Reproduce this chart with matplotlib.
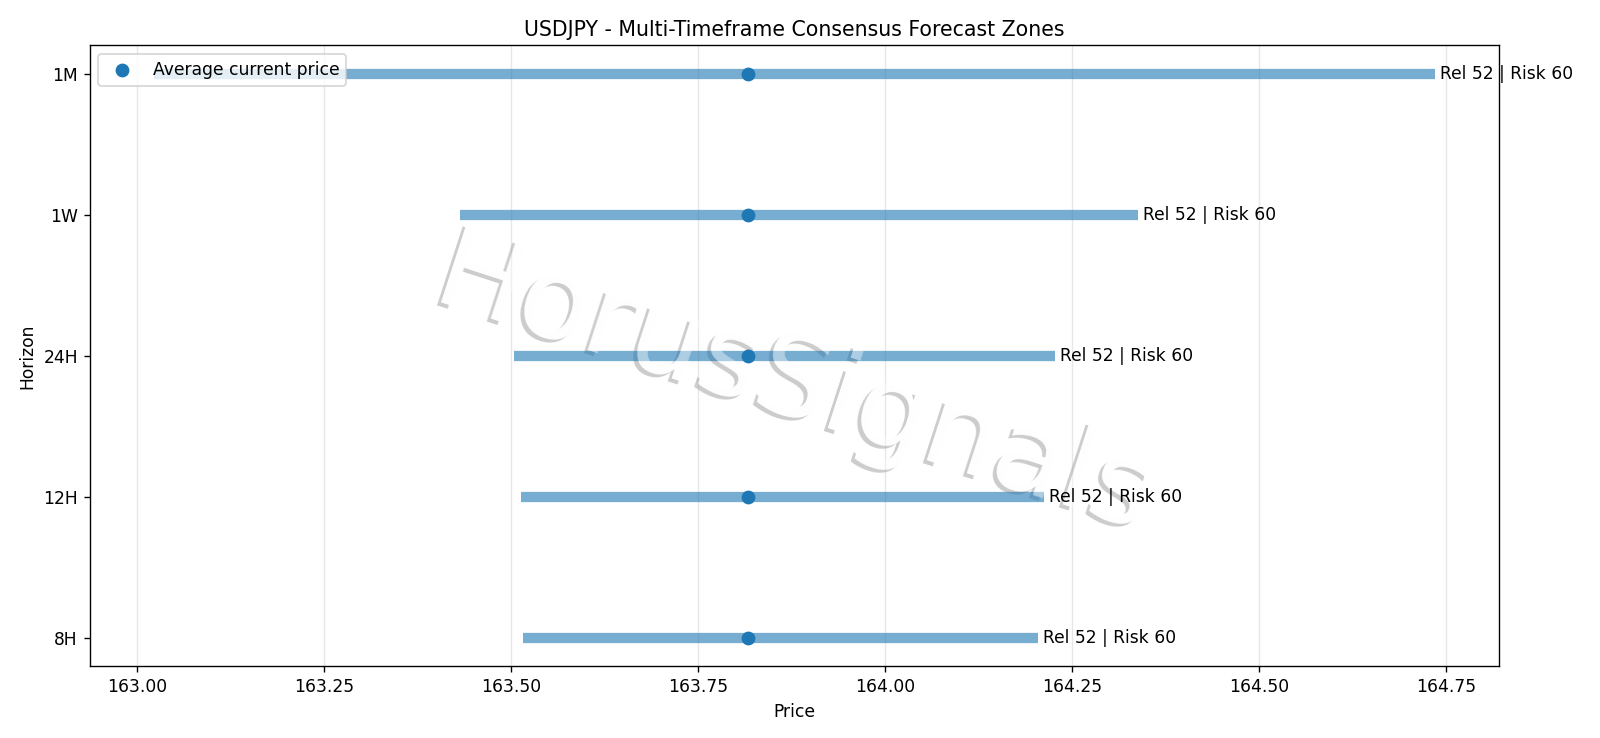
import matplotlib
matplotlib.use("Agg")
import matplotlib.pyplot as plt
import matplotlib.transforms as mtransforms

horizons = ["8H", "12H", "24H", "1W", "1M"]
lows = [163.516, 163.513, 163.504, 163.431, 163.022]
highs = [164.204, 164.212, 164.227, 164.338, 164.735]
current = [163.816, 163.816, 163.816, 163.816, 163.816]
labels = ["Rel 52 | Risk 60"] * 5

DPI = 1600 / 13
fig = plt.figure(figsize=(13, 6), dpi=DPI)
ax = fig.add_axes([0.0561, 0.0976, 0.8808, 0.8403])

ypos = list(range(len(horizons)))
ax.hlines(ypos, lows, highs, color="tab:blue", alpha=0.6, linewidth=6, zorder=2)
ax.scatter(current, ypos, color="tab:blue", s=50, zorder=2.5, label="Average current price")
for y, h, lab in zip(ypos, highs, labels):
    ax.text(h + 0.007, y, lab, va="center", ha="left", fontsize=10, zorder=3)

ax.set_yticks(ypos)
ax.set_yticklabels(horizons)
ax.set_xlabel("Price")
ax.set_ylabel("Horizon")
ax.set_title("USDJPY - Multi-Timeframe Consensus Forecast Zones")
ax.grid(axis="x", alpha=0.3)
ax.legend(loc="upper left")

# watermark: grey shadow + white letter body, and a translucent white veil on top
wm = dict(fontsize=67, rotation=-18, ha="center", va="center")
shadow_tr = mtransforms.offset_copy(ax.transAxes, fig=fig, x=-2.3, y=-2.3, units="points")
ax.text(0.5, 0.45, "HorusSignals", transform=shadow_tr, color=(0.8, 0.8, 0.8), zorder=1.0, **wm)
ax.text(0.5, 0.45, "HorusSignals", transform=ax.transAxes, color="white", zorder=1.1, **wm)
ax.text(0.5, 0.45, "HorusSignals", transform=ax.transAxes, color="white", alpha=0.4, zorder=2.8, **wm)

fig.savefig("out.png", dpi=DPI)
